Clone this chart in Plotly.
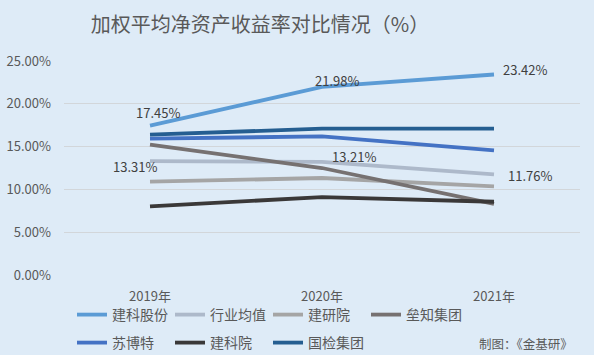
import plotly.graph_objects as go

years = ["2019年", "2020年", "2021年"]
series_names = ["建科股份", "行业均值", "建研院", "垒知集团", "苏博特", "建科院", "国检集团"]
jkgf = [17.45, 21.98, 23.42]
hyjz = [13.31, 13.21, 11.76]
jyy = [10.90, 11.33, 10.35]
lzjt = [15.22, 12.50, 8.30]
sbt = [15.92, 16.20, 14.56]
jky = [8.02, 9.10, 8.56]
gjjt = [16.39, 17.09, 17.09]
y_ticks = [0, 5, 10, 15, 20, 25]
y_tick_labels = ["0.00%", "5.00%", "10.00%", "15.00%", "20.00%", "25.00%"]

values = [jkgf, hyjz, jyy, lzjt, sbt, jky, gjjt]
colors = ["#5b9bd5", "#adb9ca", "#a5a5a5", "#767171", "#4472c4", "#3a3838", "#255e91"]
legends = ["legend", "legend", "legend", "legend", "legend2", "legend2", "legend2"]

FONT = "Noto Sans CJK SC"
GRAY = "#595959"

fig = go.Figure()
for name, vals, col, lg in zip(series_names, values, colors, legends):
    fig.add_trace(go.Scatter(
        x=years, y=vals, name=name, mode="lines",
        line=dict(color=col, width=3.8),
        legend=lg, hoverinfo="skip",
    ))

labels = [
    (0, jkgf, 8, 13), (1, jkgf, 15, 6), (2, jkgf, 31, 5),
    (0, hyjz, -15, -5), (1, hyjz, 32, 5), (2, hyjz, 36, -1),
]
for i, arr, xs, ys in labels:
    fig.add_annotation(
        x=years[i], y=arr[i], text=f"{arr[i]:.2f}%", showarrow=False,
        xshift=xs, yshift=ys,
        font=dict(family=FONT, size=13, color="#404040"),
    )

fig.add_annotation(
    xref="paper", yref="paper", x=0.99, y=(275 - 343) / 214, xanchor="right", yanchor="middle",
    text="制图：《金基研》", showarrow=False,
    font=dict(family=FONT, size=12.5, color=GRAY),
)

bg = "#deebf7"
fig.update_layout(
    width=594, height=355,
    paper_bgcolor=bg, plot_bgcolor=bg,
    margin=dict(l=64, r=14, t=61, b=80, autoexpand=False),
    title=dict(text="加权平均净资产收益率对比情况（%）", xref="container", x=260 / 594,
               xanchor="center", yref="container", y=1 - 25 / 355, yanchor="middle",
               font=dict(family=FONT, size=20, color=GRAY)),
    font=dict(family=FONT, color=GRAY),
    xaxis=dict(type="category", range=[-0.5, 2.5], showgrid=False, zeroline=False,
               showline=False, ticks="", ticklabelstandoff=12, automargin=False,
               tickfont=dict(size=13, color=GRAY)),
    yaxis=dict(range=[0, 25], tickvals=y_ticks, ticktext=y_tick_labels,
               showgrid=True, gridcolor="#d2d6da", gridwidth=1, zeroline=False,
               showline=False, ticklabelstandoff=12, automargin=False,
               tickfont=dict(size=13, color=GRAY)),
    legend=dict(orientation="h", x=72 / 594, xref="container", xanchor="left",
                y=1 - 315 / 355, yref="container", yanchor="middle",
                entrywidth=53, entrywidthmode="pixels", bgcolor="rgba(0,0,0,0)",
                font=dict(family=FONT, size=14, color=GRAY), tracegroupgap=0),
    legend2=dict(orientation="h", x=72 / 594, xref="container", xanchor="left",
                 y=1 - 343 / 355, yref="container", yanchor="middle",
                 entrywidth=53, entrywidthmode="pixels", bgcolor="rgba(0,0,0,0)",
                 font=dict(family=FONT, size=14, color=GRAY), tracegroupgap=0),
    showlegend=True,
)

fig.write_html("out.html", config={"displayModeBar": False},
               post_script="document.body.style.margin='0';")
